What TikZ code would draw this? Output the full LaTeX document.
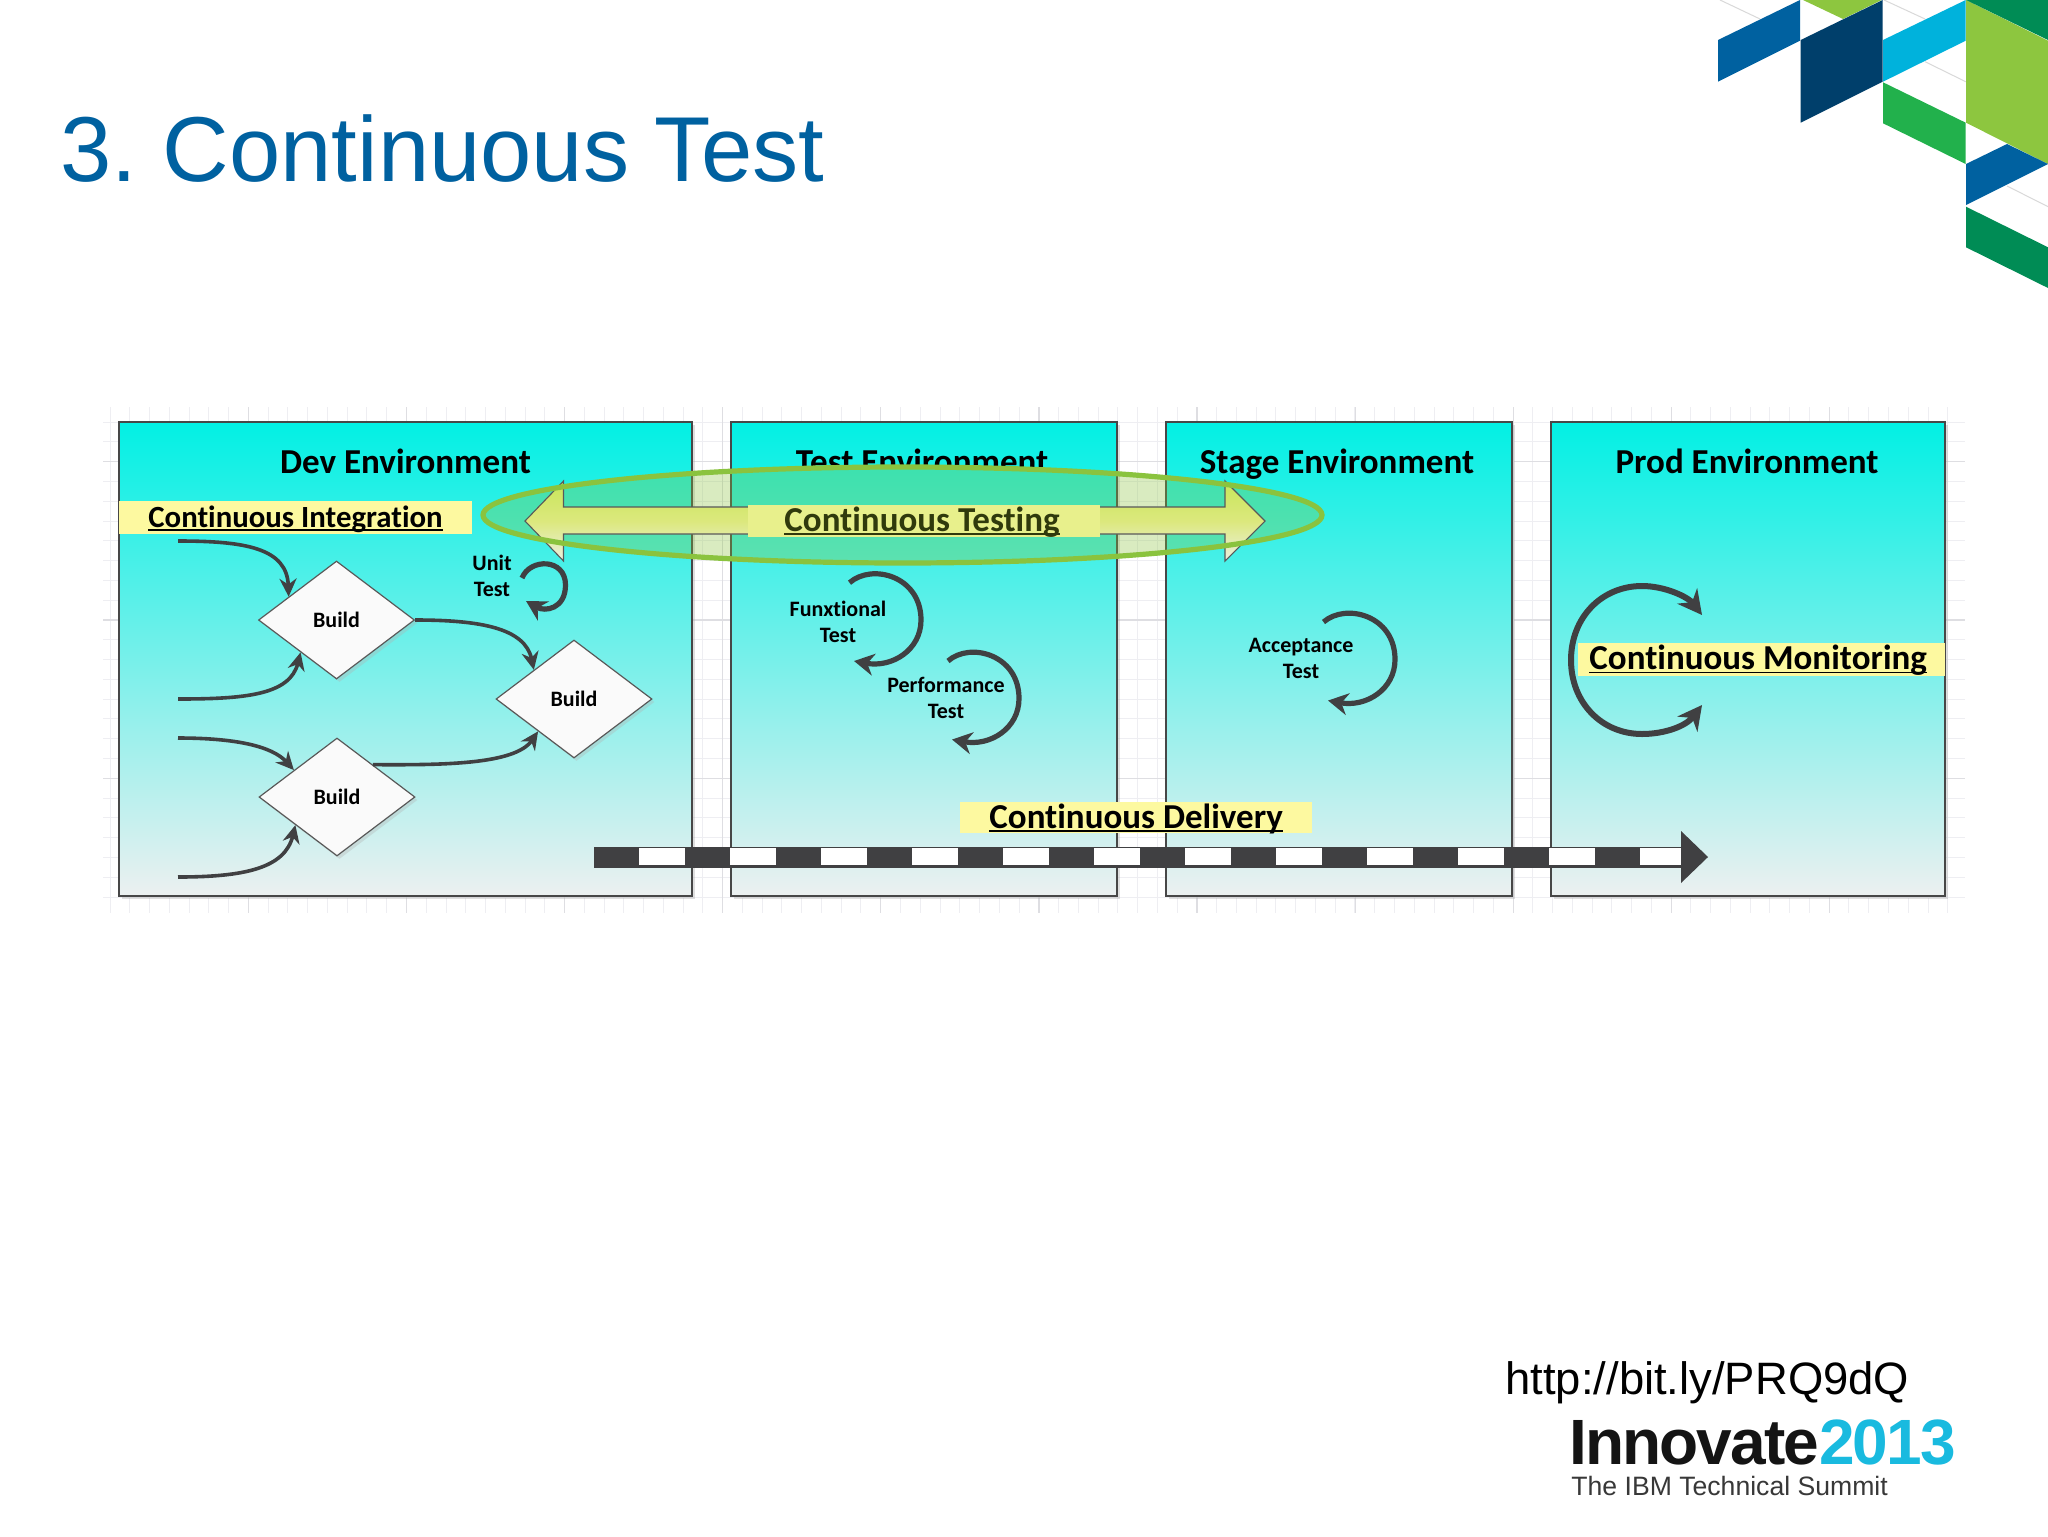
\documentclass[tikz,border=0pt]{standalone}
\usepackage{fontspec}
\setmainfont[Ligatures=NoCommon]{Carlito}
\newfontfamily\arialf{Liberation Sans}
\newfontfamily\innovf[LetterSpace=-3.0]{Liberation Sans}
\usetikzlibrary{arrows.meta,shapes.geometric}
\definecolor{ibmblue}{RGB}{0,97,160}
\definecolor{ibmnavy}{RGB}{0,63,107}
\definecolor{ibmcyan}{RGB}{0,178,220}
\definecolor{ibmgreen}{RGB}{34,177,76}
\definecolor{ibmlime}{RGB}{141,198,63}
\definecolor{ibmdark}{RGB}{0,140,85}
\definecolor{boxtop}{RGB}{2,240,228}
\definecolor{boxbot}{RGB}{236,240,240}
\definecolor{bandy}{RGB}{253,249,160}
\definecolor{bandct}{RGB}{232,240,140}
\definecolor{textct}{RGB}{48,58,12}
\definecolor{shaftc}{RGB}{220,232,125}
\definecolor{headtop}{RGB}{200,230,90}
\definecolor{headbot}{RGB}{235,240,225}
\definecolor{arrowgray}{RGB}{64,64,66}
\definecolor{ringgreen}{RGB}{138,195,62}
\definecolor{gridmin}{RGB}{238,238,242}
\definecolor{gridmaj}{RGB}{222,222,226}
\newcommand{\ulin}[1]{\leavevmode\setbox0\hbox{#1}\copy0\kern-\wd0\rule[-1.9pt]{\wd0}{0.9pt}}
\tikzset{
  envbox/.style={rectangle,draw=black!72,line width=0.55pt,top color=boxtop,bottom color=boxbot,inner sep=0pt,minimum height=237pt},
  envtitle/.style={anchor=base,inner sep=0pt,font=\fontsize{17.5}{20}\selectfont\bfseries},
  band/.style={rectangle,fill=bandy,inner sep=0pt},
  bandtext/.style={anchor=base west,inner sep=0pt,font=\fontsize{17.5}{20}\selectfont\bfseries},
  builddia/.style={diamond,draw=black!65,line width=0.6pt,fill=white!98!black,inner sep=0pt,minimum width=78pt,minimum height=59pt,font=\fontsize{11}{13}\selectfont\bfseries},
  diashadow/.style={diamond,fill=black!30,opacity=.35,inner sep=0pt,minimum width=78pt,minimum height=59pt},
  looplabel/.style={align=center,inner sep=0pt,font=\fontsize{11}{13}\selectfont\bfseries},
  flow/.style={draw=arrowgray,line width=1.8pt,-{Stealth[length=9pt,width=8.5pt]}},
  loopar/.style={draw=arrowgray,line width=2.6pt,-{Stealth[length=10pt,width=11pt]}},
  monar/.style={draw=arrowgray,line width=3pt,-{Stealth[length=12pt,width=12.5pt]}},
  gridline/.style={draw=gridmin,line width=0.5pt},
  gridmajor/.style={draw=gridmaj,line width=0.6pt}
}
\begin{document}
\frenchspacing
\begin{tikzpicture}[x=0.5pt,y=-0.5pt]
\useasboundingbox (0,0) rectangle (2048,1536);
\fill[white] (0,0) rectangle (2048,1536);
% logo
\draw[black!15,line width=0.5pt] (1720,0) -- (1760,19) (1884,0) -- (1925,19) (1925,61.7) -- (1965.7,81.7) (2007,186) -- (2048,206.7);
\fill[ibmblue] (1718,40) -- (1800,0) -- (1800,40.7) -- (1718,81.7) -- cycle;
\fill[ibmlime] (1803,0) -- (1881.7,0) -- (1843,19) -- cycle;
\fill[ibmnavy] (1800.7,40) -- (1882.7,0) -- (1882.7,81.7) -- (1800.7,122.7) -- cycle;
\fill[ibmcyan] (1883,40) -- (1965.7,0) -- (1965.7,40.7) -- (1883,81.7) -- cycle;
\fill[ibmgreen] (1883,82.3) -- (1965.7,122.7) -- (1965.7,164) -- (1883,123.3) -- cycle;
\fill[ibmlime] (1966,0) -- (2048,40.7) -- (2048,164) -- (1966,122.7) -- cycle;
\fill[ibmdark] (1966,0) -- (2048,0) -- (2048,40) -- cycle;
\fill[ibmblue] (1966,164) -- (2007,144) -- (2048,164) -- (1966,205) -- cycle;
\fill[ibmdark] (1966,206.7) -- (2048,247.3) -- (2048,288) -- (1966,247.3) -- cycle;
% title
\node[anchor=base west,inner sep=0pt,text=ibmblue,font=\arialf\fontsize{46.1}{50}\selectfont] (title) at (60,181) {3. Continuous Test};
% grid
\foreach \k in {-7,...,86} {\draw[gridline] ({248.4+\k*19.76},407) -- ({248.4+\k*19.76},913);}
\foreach \k in {-2,...,22} {\draw[gridline] (103,{461.7+\k*19.79}) -- (1965,{461.7+\k*19.79});}
\foreach \k in {1,...,11} {\draw[gridmajor] ({90.3+\k*158.1},407) -- ({90.3+\k*158.1},913);}
\foreach \k in {0,1,2} {\draw[gridmajor] (103,{461.7+\k*158.3}) -- (1965,{461.7+\k*158.3});}
% environment boxes
\foreach \a/\b in {119/692,731/1117,1166/1512,1551/1945} {\fill[black!35,opacity=.35] (\a+3,425) rectangle (\b+3,899);}
\node[envbox,minimum width=286.5pt] (dev) at (405.5,659) {};
\node[envbox,minimum width=193pt] (testenv) at (924,659) {};
\node[envbox,minimum width=173pt] (stage) at (1339,659) {};
\node[envbox,minimum width=197pt] (prod) at (1748,659) {};
\node[envtitle] (devt) at (405.5,473) {Dev Environment};
\node[envtitle] (testt) at (922,473) {Test Environment};
\node[envtitle] (staget) at (1337,473) {Stage Environment};
\node[envtitle] (prodt) at (1747,473) {Prod Environment};
% the ring hides the lower part of the Test title
\begin{scope}
\clip (902.5,515) ellipse [x radius=419.5,y radius=48];
\node[envbox,minimum width=193pt] (testcover) at (924,659) {};
\end{scope}
% ring tint, double arrow, testing band, ring outline
\fill[ringgreen,opacity=.32] (902.5,515) ellipse [x radius=419.5,y radius=48];
\draw[draw=black!65,line width=0.55pt,top color=headtop,bottom color=headbot,middle color=shaftc]
  (525,521) -- (563.5,481) -- (563.5,507) -- (1225,507) -- (1225,481) -- (1265,521) -- (1225,561) -- (1225,534) -- (563.5,534) -- (563.5,561) -- cycle;
\node[band,fill=bandct,minimum width=176pt,minimum height=16pt] (ctband) at (924,521) {};
\node[bandtext,text=textct] (ct) at (784,531) {\ulin{Continuous Testing}};
\draw[ringgreen,line width=2.6pt] (902.5,515) ellipse [x radius=419.5,y radius=48];
% yellow bands
\node[band,minimum width=176.5pt,minimum height=16.5pt] (ciband) at (295.5,517.5) {};
\node[bandtext,font=\fontsize{15.4}{18}\selectfont\bfseries] (ci) at (148,527) {\ulin{Continuous Integration}};
\node[band,minimum width=176pt,minimum height=15.7pt] (cdband) at (1136,817.3) {};
\node[bandtext] (cd) at (989,828) {\ulin{Continuous Delivery}};
\node[band,minimum width=183.5pt,minimum height=16.4pt] (cmband) at (1761.5,659.3) {};
\node[bandtext] (cm) at (1589,669.5) {\ulin{Continuous Monitoring}};
% builds
\node[diashadow] at (339.5,623) {};
\node[diashadow] at (576.5,702) {};
\node[diashadow] at (339.5,800) {};
\node[builddia] (b1) at (336.5,620) {Build};
\node[builddia] (b2) at (574,699) {Build};
\node[builddia] (b3) at (337,797) {Build};
% free ends
\coordinate (i1) at (178,541);
\coordinate (i2) at (178,699);
\coordinate (i3) at (178,738);
\coordinate (i4) at (178,877);
\draw[flow] (i1) .. controls (245,541) and (287,548) .. (b1.154);
\draw[flow] (i2) .. controls (245,699) and (290,695) .. (b1.222);
\draw[flow] (i3) .. controls (235,738) and (272,746) .. (b3.148.5);
\draw[flow] (i4) .. controls (245,877) and (285,868) .. (b3.214);
\draw[flow] (b1.east) .. controls (480,620) and (525,628) .. (b2.144);
\draw[flow] (b3.42) .. controls (440,765) and (515,765) .. (b2.222);
% loops
\node[looplabel] (unit) at (492,575.5) {Unit\\Test};
\coordinate (us) at (522,578);
\coordinate (ue) at (526,601);
\draw[loopar] (us) .. controls (530,558) and (565.5,558) .. (565.5,585) .. controls (565.5,609) and (545,612) .. (ue);
\node[looplabel] (funx) at (838,621.7) {Funxtional\\Test};
\coordinate (fs) at (849.5,582.7);
\coordinate (fe) at (854,661);
\draw[loopar] (fs) .. controls (872,563) and (921,576) .. (921,620) .. controls (921,650) and (892,668) .. (fe);
\node[looplabel] (perf) at (946,697.7) {Performance\\Test};
\coordinate (ps) at (948,661);
\coordinate (pe) at (952,739.5);
\draw[loopar] (ps) .. controls (970,641.5) and (1019,654.5) .. (1019,698.5) .. controls (1019,728.5) and (990,746.5) .. (pe);
\node[looplabel] (acc) at (1301,658.5) {Acceptance\\Test};
\coordinate (as) at (1323.5,622);
\coordinate (ae) at (1328,700.5);
\draw[loopar] (as) .. controls (1346,602.5) and (1395,615.5) .. (1395,659.5) .. controls (1395,689.5) and (1366,707.5) .. (ae);
% monitoring
\coordinate (ms) at (1571,660);
\coordinate (m1) at (1702,615);
\coordinate (m2) at (1702,705);
\draw[monar] (ms) .. controls (1571,617) and (1602,586) .. (1642,586) .. controls (1665,586) and (1688,597) .. (m1);
\draw[monar] (ms) .. controls (1571,703) and (1602,734) .. (1642,734) .. controls (1665,734) and (1686,726) .. (m2);
% delivery arrow
\coordinate (ds) at (594,857.3);
\coordinate (de) at (1682,857.3);
\draw[arrowgray,line width=10.5pt] (ds) -- (de);
\draw[white,line width=8.2pt,dash pattern=on 22.75pt off 22.75pt] (639,856.6) -- (1681,856.6);
\fill[arrowgray] (1681,831) -- (1708,857) -- (1681,883) -- cycle;
% footer
\node[anchor=base west,inner sep=0pt,font=\arialf\fontsize{22.7}{26}\selectfont] (url) at (1505,1394) {http://bit.ly/PRQ9dQ};
\node[anchor=base west,inner sep=0pt,font=\innovf\bfseries\fontsize{32}{36}\selectfont] (inn) at (1569,1464) {\textcolor{black!92}{Innovate}\textcolor{ibmcyan!90!white}{2013}};
\node[anchor=base west,inner sep=0pt,text=black!78,font=\arialf\fontsize{13.3}{15}\selectfont] (summit) at (1571,1495) {The IBM Technical Summit};
\end{tikzpicture}
\end{document}
